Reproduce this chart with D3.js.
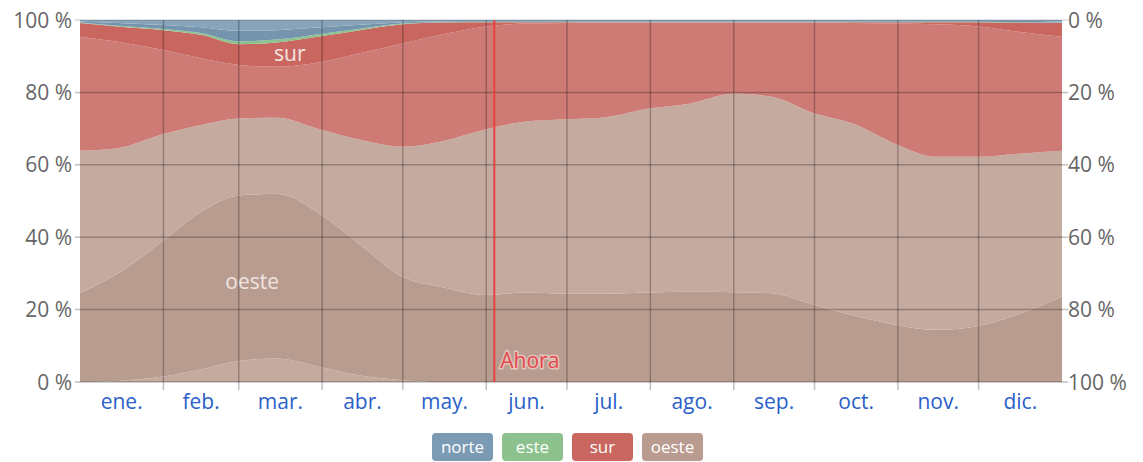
<!DOCTYPE html>
<html lang="es">
<head>
<meta charset="utf-8">
<script src="https://cdn.jsdelivr.net/npm/d3@7"></script>
<style>
  body { margin: 0; background: #fff; }
  svg text { font-family: "Open Sans", "Noto Sans", sans-serif; }
</style>
</head>
<body>
<svg id="windChart"></svg>
<script>
// Month labels and sample dates (boundaries, cumulative %)
const months = ["ene.", "feb.", "mar.", "abr.", "may.", "jun.", "jul.", "ago.", "sep.", "oct.", "nov.", "dic."];
const sampleDates = ["2023-01-01", "2023-01-15", "2023-02-01", "2023-02-15", "2023-03-01", "2023-03-15",
    "2023-04-01", "2023-04-15", "2023-05-01", "2023-05-15", "2023-06-01", "2023-06-15",
    "2023-07-01", "2023-07-15", "2023-08-01", "2023-08-15", "2023-09-01", "2023-09-15",
    "2023-10-01", "2023-10-15", "2023-11-01", "2023-11-15", "2023-12-01", "2023-12-15", "2024-01-01"];

// top of the light band at the bottom of oeste (noroeste half)
const oesteBajo = [0, 0.3, 1.5, 3.5, 5.8, 6.5, 4, 1.8, 0.5, 0, 0, 0, 0, 0, 0, 0, 0, 0, 0, 0, 0, 0, 0, 0, 0];
// top of the oeste core
const oesteNucleo = [24.5, 30, 39, 47, 51.5, 52, 46, 38, 29, 26.3, 24, 24.7, 24.4, 24.4, 24.7, 24.9, 24.8, 24.5, 21.3, 18.5, 15.7, 14.4, 15.5, 18.5, 23.6];
// oeste / sur boundary
const oesteTope = [63.9, 64.6, 68.5, 71, 72.8, 73, 69.6, 66.9, 65, 66.4, 69.8, 71.9, 72.6, 73.1, 75.6, 76.8, 79.6, 78.8, 74.2, 71.5, 65.5, 62.2, 62.2, 63, 63.9];
// bottom of the sur core
const surBase = [95.4, 94, 91.7, 89.4, 87.6, 87.1, 88.5, 90.8, 93.5, 95.9, 98.2, 99, 99.2, 99.3, 99.3, 99.3, 99.3, 99.3, 99.3, 99.2, 99, 98.8, 98.2, 96.8, 95.4];
// top of sur
const surTope = [99.2, 98.2, 97.2, 95.9, 93.3, 93.8, 95.6, 97.2, 98.8, 99.3, 99.4, 99.4, 99.4, 99.4, 99.4, 99.4, 99.4, 99.4, 99.4, 99.4, 99.4, 99.4, 99.4, 99.3, 99.2];
// top of este
const esteTope = [99.3, 98.4, 97.5, 96.4, 94.1, 94.6, 96.2, 97.6, 99.0, 99.4, 99.5, 99.5, 99.5, 99.5, 99.5, 99.5, 99.5, 99.5, 99.5, 99.5, 99.5, 99.5, 99.5, 99.4, 99.3];
// top of the norte core
const norteNucleo = [99.6, 99.2, 98.6, 98, 97, 97.2, 98, 98.7, 99.4, 99.6, 99.7, 99.7, 99.7, 99.7, 99.7, 99.7, 99.7, 99.7, 99.7, 99.7, 99.7, 99.7, 99.7, 99.7, 99.6];

const yTicks = [0, 20, 40, 60, 80, 100];
const legendNames = ["norte", "este", "sur", "oeste"];
const legendColors = ["#7b9bb4", "#8dc28f", "#c8665f", "#b99b8f"];
const nowDate = "2023-06-04";

const width = 1143;
const height = 462;
const margin = { top: 20, right: 81, bottom: 80, left: 80 };

const svg = d3.select('svg#windChart')
    .attr('width', width)
    .attr('height', height);

const parse = d3.timeParse('%Y-%m-%d');
const dates = sampleDates.map(parse);
const zeros = dates.map(() => 0);
const hundreds = dates.map(() => 100);

const x = d3.scaleTime()
    .domain([new Date(2023, 0, 1), new Date(2024, 0, 1)])
    .range([margin.left, width - margin.right]);

const y = d3.scaleLinear()
    .domain([0, 100])
    .range([height - margin.bottom, margin.top]);

// Bands, bottom to top
const bands = [
    { lo: zeros, hi: oesteBajo, color: '#c4aa9f' },
    { lo: oesteBajo, hi: oesteNucleo, color: '#b99c90' },
    { lo: oesteNucleo, hi: oesteTope, color: '#c4aa9f' },
    { lo: oesteTope, hi: surBase, color: '#ce7b76' },
    { lo: surBase, hi: surTope, color: '#c8665f' },
    { lo: surTope, hi: esteTope, color: '#8cc28e' },
    { lo: esteTope, hi: norteNucleo, color: '#7595af' },
    { lo: norteNucleo, hi: hundreds, color: '#87a4bb' }
];

const area = d3.area()
    .x(i => x(dates[i]))
    .curve(d3.curveMonotoneX);

svg.append('g')
    .selectAll('path')
    .data(bands)
    .join('path')
    .attr('d', b => area.y0(i => y(b.lo[i])).y1(i => y(b.hi[i]))(d3.range(dates.length)))
    .attr('fill', b => b.color);

// Grid: horizontal lines with ticks on both sides
const grid = svg.append('g')
    .attr('stroke', 'rgba(0,0,0,0.25)')
    .attr('stroke-width', 1.5);

grid.selectAll('.hline')
    .data(yTicks)
    .join('line')
    .classed('hline', true)
    .attr('x1', margin.left - 5)
    .attr('x2', width - margin.right + 6)
    .attr('y1', d => y(d))
    .attr('y2', d => y(d))
    .attr('stroke', d => d === 100 ? 'rgba(0,0,0,0.15)' : null);

const monthStarts = d3.timeMonth.range(new Date(2023, 0, 1), new Date(2024, 0, 1));

grid.selectAll('.vline')
    .data(monthStarts.slice(1))
    .join('line')
    .classed('vline', true)
    .attr('x1', d => x(d))
    .attr('x2', d => x(d))
    .attr('y1', y(100))
    .attr('y2', y(0) + 8);

// Left axis labels
svg.append('g')
    .selectAll('text')
    .data(yTicks)
    .join('text')
    .attr('x', margin.left - 8)
    .attr('y', d => y(d) + 7.5)
    .attr('text-anchor', 'end')
    .attr('font-size', 21)
    .attr('fill', '#666')
    .text(d => `${d} %`);

// Right axis labels (inverse)
svg.append('g')
    .selectAll('text')
    .data(yTicks)
    .join('text')
    .attr('x', width - margin.right + 6)
    .attr('y', d => y(d) + 7.5)
    .attr('text-anchor', 'start')
    .attr('font-size', 21)
    .attr('fill', '#666')
    .text(d => `${100 - d} %`);

// Month labels
svg.append('g')
    .selectAll('text')
    .data(monthStarts)
    .join('text')
    .attr('x', d => (x(d) + x(d3.timeMonth.offset(d, 1))) / 2)
    .attr('y', y(0) + 27)
    .attr('text-anchor', 'middle')
    .attr('font-size', 21)
    .attr('fill', '#2b5fc9')
    .text((d, i) => months[i]);

// Now line
const now = parse(nowDate);
svg.append('line')
    .attr('x1', x(now))
    .attr('x2', x(now))
    .attr('y1', y(100))
    .attr('y2', y(0))
    .attr('stroke', '#e8423f')
    .attr('stroke-width', 2);

svg.append('text')
    .attr('x', x(now) + 6)
    .attr('y', y(0) - 14)
    .attr('font-size', 21)
    .attr('fill', '#e4484c')
    .attr('stroke', 'rgba(240,215,205,0.7)')
    .attr('stroke-width', 3)
    .attr('paint-order', 'stroke')
    .text('Ahora');

// In-chart series labels
svg.append('text')
    .attr('x', x(new Date(2023, 2, 20)))
    .attr('y', y(90.5) + 7)
    .attr('text-anchor', 'middle')
    .attr('font-size', 21)
    .attr('fill', '#f6e6e4')
    .text('sur');

svg.append('text')
    .attr('x', x(new Date(2023, 2, 6)))
    .attr('y', y(27.6) + 7)
    .attr('text-anchor', 'middle')
    .attr('font-size', 21)
    .attr('fill', '#efe4e0')
    .text('oeste');

// Legend
const legend = svg.append('g')
    .attr('transform', 'translate(432,433)');

const item = legend.selectAll('g')
    .data(legendNames)
    .join('g')
    .attr('transform', (d, i) => `translate(${i * 70},0)`);

item.append('rect')
    .attr('width', 61)
    .attr('height', 28)
    .attr('rx', 4)
    .attr('fill', (d, i) => legendColors[i]);

item.append('text')
    .attr('x', 30.5)
    .attr('y', 20)
    .attr('text-anchor', 'middle')
    .attr('font-size', 17)
    .attr('fill', '#fff')
    .text(d => d);
</script>
</body>
</html>
